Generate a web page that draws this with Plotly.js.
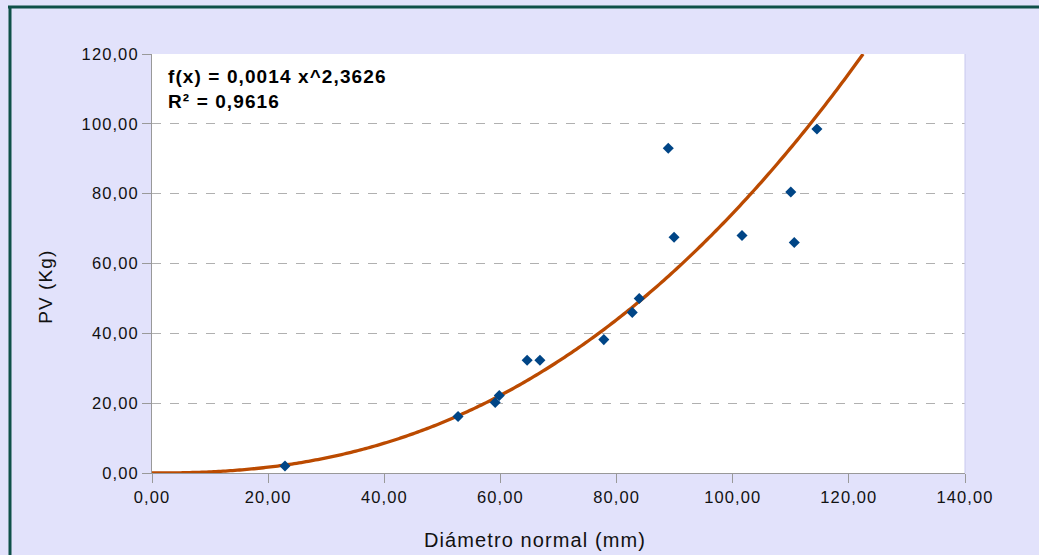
<!DOCTYPE html>
<html><head><meta charset="utf-8">
<script src="https://cdn.plot.ly/plotly-3.0.1.min.js"></script>
<style>
html,body{margin:0;padding:0;background:#e2e2fb;}
#chart .xtick text, #chart .ytick text {letter-spacing:1.1px;}
#chart .annotation-text {letter-spacing:1.1px;}
</style>
</head><body><div id="chart" style="width:1039px;height:555px;"></div>
<script>
const diametro = [22.9, 52.7, 59.1, 59.8, 64.6, 66.8, 77.8, 82.7, 83.9, 88.9, 89.9, 101.6, 110.0, 110.6, 114.5];
const pv = [2.0, 16.2, 20.2, 22.2, 32.3, 32.3, 38.2, 46.0, 50.0, 93.0, 67.5, 68.0, 80.5, 66.0, 98.5];
const trendCoef = 0.0014;
const trendExp = 2.3626;
const equationText = "f(x) = 0,0014 x^2,3626";
const r2Text = "R² = 0,9616";
const xTitle = "Diámetro normal (mm)";
const yTitle = "PV (Kg)";
const xTicks = [0, 20, 40, 60, 80, 100, 120, 140];
const yTicks = [0, 20, 40, 60, 80, 100, 120];

const xMax = Math.pow(120 / trendCoef, 1 / trendExp);
const tx = [], ty = [];
for (let i = 0; i <= 300; i++) { const x = xMax * i / 300; tx.push(x); ty.push(trendCoef * Math.pow(x, trendExp)); }

const W = 1039, H = 555, L = 152, R = 74, T = 54, B = 82;
const pw = W - L - R, ph = H - T - B;
const px = v => (v - L) / pw;
const py = v => (H - B - v) / ph;

const data = [
  {x: tx, y: ty, type: 'scatter', mode: 'lines', line: {color: '#bb4a00', width: 3.3, simplify: false}, hoverinfo: 'skip'},
  {x: diametro, y: pv, type: 'scatter', mode: 'markers', marker: {symbol: 'diamond', color: '#004586', size: 8.5}},
];
const layout = {
  width: W, height: H, separators: ', ',
  margin: {l: L, r: R, t: T, b: B},
  paper_bgcolor: '#e2e2fb', plot_bgcolor: '#ffffff', showlegend: false,
  font: {family: 'Liberation Sans, Arial, sans-serif', size: 16.5, color: '#111'},
  xaxis: {range: [0, 140], tickvals: xTicks, tickformat: '.2f', ticks: 'outside', ticklen: 9, tickcolor: '#999',
    showline: true, linecolor: '#999', linewidth: 1, showgrid: false, zeroline: false},
  yaxis: {range: [0, 120], tickvals: yTicks, tickformat: '.2f', ticks: 'outside', ticklen: 9, tickcolor: '#999',
    showline: true, linecolor: '#999', linewidth: 1, showgrid: true, gridcolor: '#b0b0b0', griddash: 'dash', gridwidth: 1, zeroline: false},
  annotations: [
    {xref: 'paper', yref: 'paper', x: px(166), y: py(89), xanchor: 'left', yanchor: 'middle', align: 'left', showarrow: false,
     text: '<b>' + equationText + '</b><br><b>' + r2Text + '</b>', font: {size: 19, color: '#000'}},
    {xref: 'paper', yref: 'paper', x: px(535), y: py(540), xanchor: 'center', yanchor: 'middle', showarrow: false,
     text: xTitle, font: {size: 20, color: '#111'}},
    {xref: 'paper', yref: 'paper', x: px(45), y: py(287), xanchor: 'center', yanchor: 'middle', showarrow: false, textangle: -90,
     text: yTitle, font: {size: 19, color: '#111'}},
  ],
  shapes: [
    {type: 'line', xref: 'paper', yref: 'paper', x0: px(8), x1: px(1039), y0: py(7), y1: py(7), line: {color: '#0f5049', width: 3}},
    {type: 'line', xref: 'paper', yref: 'paper', x0: px(10), x1: px(10), y0: py(7), y1: py(555), line: {color: '#0f5049', width: 3}},
    {type: 'line', xref: 'paper', yref: 'paper', x0: 1, x1: 1, y0: 0, y1: 1, line: {color: '#c8c8ee', width: 1}},
  ],
};
Plotly.newPlot('chart', data, layout, {displayModeBar: false, staticPlot: true});
</script></body></html>
